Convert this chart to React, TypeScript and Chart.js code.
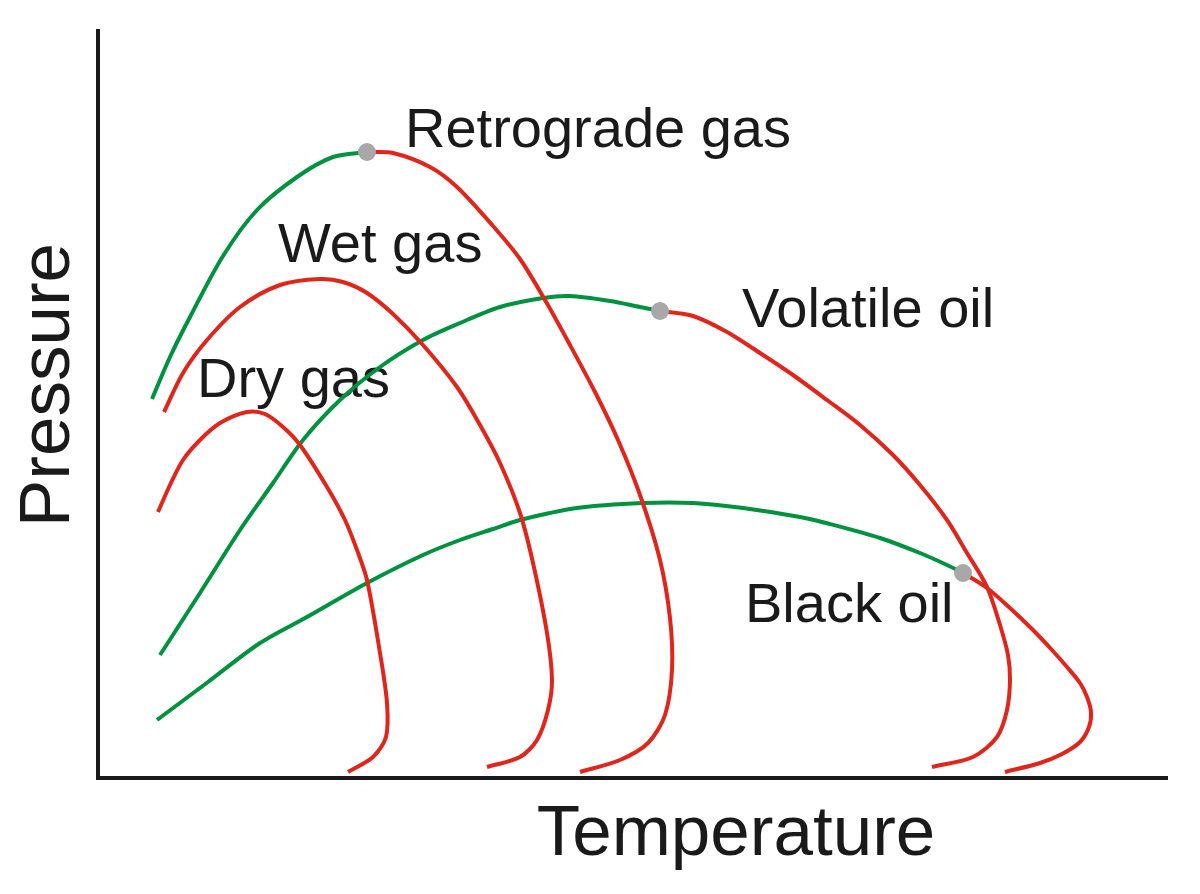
import { useEffect, useRef } from "react";
import { Chart, registerables } from "chart.js";

Chart.register(...registerables);

// Coordinates: [temperature, pressure] in arbitrary diagram units
const dryGasCurve: [number, number][] = [
  [60, 266], [72, 293], [85, 318], [102, 338], [122, 355], [149, 366], [167, 364],
  [185, 351], [202, 333], [229, 291], [247, 258], [259, 228], [269, 198], [282, 125],
  [289, 75], [288, 41], [275, 21], [250, 6],
];

const wetGasCurve: [number, number][] = [
  [66, 366], [85, 405], [109, 438], [142, 471], [182, 493], [222, 499], [245, 496],
  [269, 485], [295, 464], [325, 433], [359, 391], [382, 353], [402, 315], [422, 265],
  [435, 215], [449, 145], [454, 98], [450, 68], [439, 38], [422, 21], [389, 11],
];

const retrogradeGasDew: [number, number][] = [
  [54, 379], [72, 421], [92, 461], [125, 522], [159, 568], [199, 601], [235, 621], [269, 626],
];
const retrogradeGasBubble: [number, number][] = [
  [269, 626], [295, 625], [332, 611], [359, 591], [395, 552], [422, 519], [447, 478],
  [472, 433], [497, 386], [520, 338], [542, 283], [562, 218], [572, 160], [574, 108],
  [567, 63], [550, 35], [522, 18], [482, 6],
];

const volatileOilBubble: [number, number][] = [
  [62, 123], [102, 185], [142, 248], [175, 295], [205, 338], [242, 378], [282, 411],
  [325, 438], [362, 455], [402, 471], [445, 480], [472, 482], [512, 477], [542, 471], [562, 467],
];
const volatileOilDew: [number, number][] = [
  [562, 467], [595, 462], [629, 446], [662, 425], [695, 403], [729, 378], [762, 353],
  [795, 323], [822, 293], [849, 258], [869, 225], [889, 191], [902, 153], [910, 123],
  [912, 98], [909, 68], [899, 41], [875, 21], [834, 11],
];

const blackOilBubble: [number, number][] = [
  [59, 58], [110, 96], [162, 135], [209, 161], [269, 195], [325, 223], [362, 238],
  [395, 249], [422, 258], [479, 270], [545, 275], [595, 275], [645, 270], [702, 261],
  [732, 254], [782, 240], [822, 225], [849, 213], [865, 205],
];
const blackOilDew: [number, number][] = [
  [865, 205], [889, 190], [912, 170], [935, 148], [954, 128], [969, 111], [982, 95],
  [989, 81], [993, 66], [991, 51], [982, 36], [964, 24], [942, 15], [907, 6],
];

const criticalPoints: [number, number][] = [
  [269, 626], [562, 467], [865, 205],
];

const labelNames = ["Retrograde gas", "Wet gas", "Dry gas", "Volatile oil", "Black oil"];
const labelAnchors: [number, number][] = [
  [307, 631], [180, 516], [99, 381], [644, 451], [647, 156],
];

const axisTitleX = "Temperature";
const axisTitleY = "Pressure";

const T_MAX = 1070;
const P_MAX = 749;

const RED = "#e1251b";
const GREEN = "#00923f";
const DOT = "#a8a8a8";
const INK = "#1a1a1a";
const FONT = '"Liberation Sans", Arial, sans-serif';

const toPts = (arr: [number, number][]) => arr.map(([x, y]) => ({ x, y }));

const line = (data: [number, number][], color: string) => ({
  data: toPts(data),
  showLine: true,
  borderColor: color,
  backgroundColor: color,
  borderWidth: 4,
  pointRadius: 0,
  tension: 0.3,
  fill: false,
  order: 2,
});

const decorations = {
  id: "decorations",
  beforeDatasetsDraw(chart: any) {
    const { ctx, chartArea: a, scales } = chart;
    const xs = scales.x;
    const ys = scales.y;
    ctx.save();
    // axes
    ctx.strokeStyle = INK;
    ctx.lineWidth = 4;
    ctx.lineCap = "butt";
    ctx.beginPath();
    ctx.moveTo(a.left, a.top);
    ctx.lineTo(a.left, a.bottom + 2);
    ctx.moveTo(a.left - 2, a.bottom);
    ctx.lineTo(a.right, a.bottom);
    ctx.stroke();
    // curve labels
    ctx.fillStyle = INK;
    ctx.font = `56px ${FONT}`;
    ctx.textAlign = "left";
    ctx.textBaseline = "alphabetic";
    labelNames.forEach((name, i) => {
      const [t, p] = labelAnchors[i];
      ctx.fillText(name, xs.getPixelForValue(t), ys.getPixelForValue(p));
    });
    // axis titles
    ctx.font = `71px ${FONT}`;
    ctx.textAlign = "center";
    ctx.fillText(axisTitleX, a.left + 638, a.bottom + 77);
    ctx.translate(a.left - 29, a.top + 356);
    ctx.rotate(-Math.PI / 2);
    ctx.fillText(axisTitleY, 0, 0);
    ctx.restore();
  },
};

export default function App() {
  const ref = useRef<HTMLCanvasElement>(null);
  useEffect(() => {
    if (!ref.current) return;
    const chart = new Chart(ref.current, {
      type: "scatter",
      data: {
        datasets: [
          line(dryGasCurve, RED),
          line(wetGasCurve, RED),
          line(retrogradeGasDew, GREEN),
          line(retrogradeGasBubble, RED),
          line(volatileOilBubble, GREEN),
          line(volatileOilDew, RED),
          line(blackOilBubble, GREEN),
          line(blackOilDew, RED),
          {
            data: toPts(criticalPoints),
            showLine: false,
            pointRadius: 9,
            pointBackgroundColor: DOT,
            pointBorderWidth: 0,
            backgroundColor: DOT,
            borderColor: DOT,
            order: 1,
          } as any,
        ],
      },
      options: {
        responsive: false,
        animation: false,
        events: [],
        layout: { padding: { left: 98, top: 29, right: 32, bottom: 116 } },
        plugins: { legend: { display: false }, tooltip: { enabled: false } },
        scales: {
          x: { type: "linear", min: 0, max: T_MAX, display: false },
          y: { type: "linear", min: 0, max: P_MAX, display: false },
        },
      },
      plugins: [decorations],
    });
    return () => chart.destroy();
  }, []);
  return (
    <div style={{ position: "fixed", left: 0, top: 0, width: 1200, height: 894, background: "#fff" }}>
      <canvas ref={ref} width={1200} height={894} style={{ width: 1200, height: 894, display: "block" }} />
    </div>
  );
}
